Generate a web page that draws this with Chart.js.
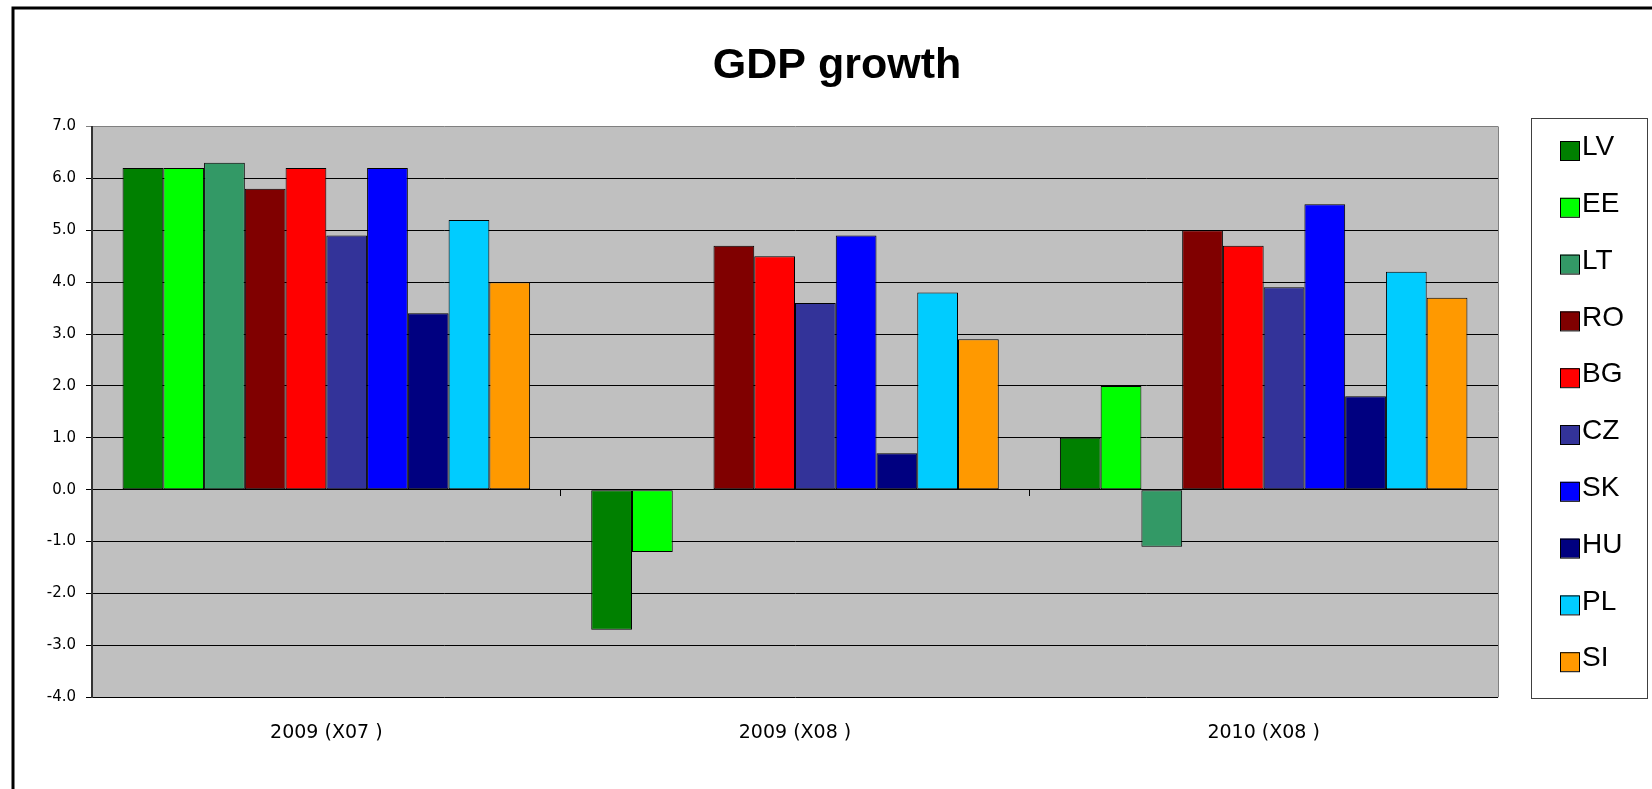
<!DOCTYPE html>
<html>
<head>
<meta charset="utf-8">
<script src="https://cdn.jsdelivr.net/npm/chart.js@4/dist/chart.umd.min.js"></script>
<style>
  html, body { margin: 0; padding: 0; background: #fff; overflow: hidden; }
  #wrap { position: absolute; left: 0; top: 0; width: 1652px; height: 789px; }
</style>
</head>
<body>
<div id="wrap"><canvas id="c" width="1652" height="789"></canvas></div>
<script>
// ---- data ----
const categories = ['2009 (X07 )', '2009 (X08 )', '2010 (X08 )'];
const seriesNames = ['LV', 'EE', 'LT', 'RO', 'BG', 'CZ', 'SK', 'HU', 'PL', 'SI'];
const LV = [6.2, -2.7, 1.0];
const EE = [6.2, -1.2, 2.0];
const LT = [6.3, null, -1.1];
const RO = [5.8, 4.7, 5.0];
const BG = [6.2, 4.5, 4.7];
const CZ = [4.9, 3.6, 3.9];
const SK = [6.2, 4.9, 5.5];
const HU = [3.4, 0.7, 1.8];
const PL = [5.2, 3.8, 4.2];
const SI = [4.0, 2.9, 3.7];
const seriesValues = [LV, EE, LT, RO, BG, CZ, SK, HU, PL, SI];
const seriesColors = ['#008000', '#00FF00', '#339966', '#800000', '#FF0000',
                      '#333399', '#0000FF', '#000080', '#00CCFF', '#FF9900'];
const yMin = -4.0, yMax = 7.0, yStep = 1.0;
const chartTitle = 'GDP growth';

const datasets = seriesNames.map((name, i) => ({
  label: name,
  data: seriesValues[i],
  backgroundColor: seriesColors[i],
  borderColor: '#000000',
  borderWidth: 1,
  borderSkipped: false,
  barPercentage: 1.0,
  categoryPercentage: 10 / 11.5,
  xAxisID: 'x',
  yAxisID: 'y'
}));

const decor = {
  id: 'decor',
  beforeDraw(chart) {
    const { ctx, chartArea: a } = chart;
    ctx.save();
    ctx.fillStyle = '#C0C0C0';
    ctx.fillRect(a.left, a.top, a.right - a.left, a.bottom - a.top);
    ctx.restore();
  },
  afterDraw(chart) {
    const { ctx, chartArea: a } = chart;
    ctx.save();
    // plot area outline (right side)
    ctx.strokeStyle = '#808080';
    ctx.lineWidth = 1;
    ctx.beginPath();
    ctx.moveTo(a.right + 0.5, a.top);
    ctx.lineTo(a.right + 0.5, a.bottom);
    ctx.stroke();
    // outer chart border
    ctx.strokeStyle = '#000';
    ctx.lineWidth = 3;
    ctx.strokeRect(13, 8, 2000, 2000);
    // title
    ctx.fillStyle = '#000';
    ctx.font = 'bold 43px "Liberation Sans", Arial, sans-serif';
    ctx.textAlign = 'center';
    ctx.textBaseline = 'middle';
    ctx.fillText(chartTitle, 837, 66);
    // legend
    const lx = 1531, ly = 118, lw = 116, lh = 580;
    ctx.fillStyle = '#fff';
    ctx.fillRect(lx, ly, lw, lh);
    ctx.strokeStyle = '#404040';
    ctx.lineWidth = 1;
    ctx.strokeRect(lx + 0.5, ly + 0.5, lw, lh);
    ctx.font = '28px "Liberation Sans", Arial, sans-serif';
    ctx.textAlign = 'left';
    chart.data.datasets.forEach((ds, i) => {
      const cy = 150.5 + i * 56.8;
      ctx.fillStyle = ds.backgroundColor;
      ctx.fillRect(1560, cy - 9.5, 19, 19);
      ctx.strokeStyle = '#000';
      ctx.lineWidth = 1;
      ctx.strokeRect(1560.5, cy - 9, 19, 19);
      ctx.fillStyle = '#000';
      ctx.fillText(ds.label, 1582, cy - 3);
    });
    ctx.restore();
  }
};

new Chart(document.getElementById('c'), {
  type: 'bar',
  data: { labels: categories, datasets },
  options: {
    responsive: false,
    devicePixelRatio: 1,
    animation: false,
    layout: { padding: { left: 12, top: 126.5, right: 154, bottom: 21 } },
    plugins: {
      legend: { display: false },
      title: { display: false },
      tooltip: { enabled: false }
    },
    scales: {
      x: {
        type: 'category',
        position: 'bottom',
        grid: { display: false, drawTicks: false },
        border: { display: false },
        ticks: {
          color: '#000',
          padding: 24,
          maxRotation: 0,
          font: { family: '"DejaVu Sans", sans-serif', size: 19 }
        }
      },
      x2: {
        type: 'category',
        position: { y: 0 },
        offset: true,
        grid: { offset: true, drawOnChartArea: false, drawTicks: true, tickLength: 6, color: '#000' },
        border: { display: true, color: '#000', width: 1 },
        ticks: { display: false }
      },
      y: {
        type: 'linear',
        position: 'left',
        min: yMin,
        max: yMax,
        afterFit(scale) { scale.width = 80; },
        ticks: {
          stepSize: yStep,
          color: '#000',
          padding: 10,
          font: { family: '"DejaVu Sans", sans-serif', size: 15 },
          callback: (v) => Number(v).toFixed(1)
        },
        grid: {
          color: (c) => (c.tick && c.tick.value === yMax) ? '#808080' : '#000',
          lineWidth: 1,
          tickLength: 6,
          drawTicks: true
        },
        border: { display: true, color: '#333', width: 2 }
      }
    }
  },
  plugins: [decor]
});
</script>
</body>
</html>
